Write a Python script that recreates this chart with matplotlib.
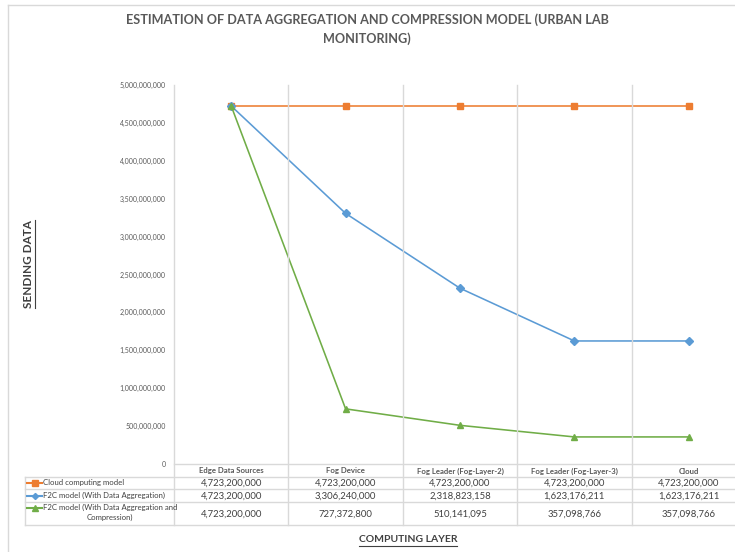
import matplotlib.pyplot as plt
from matplotlib.lines import Line2D
from matplotlib.ticker import FuncFormatter
import matplotlib.transforms as mtransforms

plt.rcParams['font.family'] = ['Lato', 'DejaVu Sans']

# data
layers = ['Edge Data Sources', 'Fog Device', 'Fog Leader (Fog-Layer-2)',
          'Fog Leader (Fog-Layer-3)', 'Cloud']
cloud_model = [4723200000, 4723200000, 4723200000, 4723200000, 4723200000]
f2c_aggregation = [4723200000, 3306240000, 2318823158, 1623176211, 1623176211]
f2c_compression = [4723200000, 727372800, 510141095, 357098766, 357098766]
series_names = ['Cloud computing model',
                'F2C model (With Data Aggregation)',
                'F2C model (With Data Aggregation and\nCompression)']

colors = ['#ED7D31', '#5B9BD5', '#70AD47']
markers = ['s', 'D', '^']
msizes = [4.8, 3.6, 4.8]
grid_col = '#D9D9D9'
text_col = '#595959'

W, H = 735, 552
fig = plt.figure(figsize=(W / 100, H / 100), dpi=100)

def fy(p):
    # pixel row -> figure fraction
    return 1 - p / H

# plot area runs past the right edge (chart is cropped in the source)
ax = fig.add_axes([174 / W, fy(464), (746 - 174) / W, (464 - 85) / H])
x = list(range(len(layers)))
all_series = [cloud_model, f2c_aggregation, f2c_compression]
for vals, c, m, ms in zip(all_series, colors, markers, msizes):
    ax.plot(x, vals, color=c, lw=1.15, marker=m, markersize=ms, zorder=3)

ax.set_xlim(-0.5, len(layers) - 0.5)
ax.set_ylim(0, 5e9)
ax.set_yticks([i * 5e8 for i in range(11)])
ax.yaxis.set_major_formatter(FuncFormatter(lambda v, p: f'{int(v):,}'))
ax.tick_params(axis='y', length=0, pad=6, labelsize=5.0, labelcolor=text_col)
ax.set_xticks([])
for s in ['top', 'right', 'left']:
    ax.spines[s].set_visible(False)
ax.spines['bottom'].set_color(grid_col)
ax.spines['bottom'].set_linewidth(1.0)

# category borders + data table
tr = mtransforms.blended_transform_factory(ax.transData, fig.transFigure)
for b in [i - 0.5 for i in range(len(layers) + 1)]:
    fig.add_artist(Line2D([b, b], [fy(85), fy(525)], transform=tr,
                          color=grid_col, lw=1.0, zorder=1))
for yp in [477, 489, 502, 525]:
    fig.add_artist(Line2D([25 / W, 1.0], [fy(yp), fy(yp)],
                          transform=fig.transFigure, color=grid_col, lw=1.0))
fig.add_artist(Line2D([25 / W, 25 / W], [fy(477), fy(525)],
                      transform=fig.transFigure, color=grid_col, lw=1.0))

for i, name in enumerate(layers):
    fig.text(i, fy(471), name, transform=tr, ha='center', va='center',
             fontsize=5.6, fontweight='bold', color=text_col)

row_centers = [483, 496, 514]
key_centers = [483, 496, 508]
for r, vals in enumerate(all_series):
    for i, v in enumerate(vals):
        fig.text(i, fy(row_centers[r]), f'{v:,}', transform=tr, ha='center',
                 va='center', fontsize=6.8, color='#404040')
    fig.add_artist(Line2D([27 / W, 42 / W], [fy(key_centers[r])] * 2,
                          transform=fig.transFigure, color=colors[r], lw=1.5))
    fig.add_artist(Line2D([34.5 / W], [fy(key_centers[r])],
                          transform=fig.transFigure, color=colors[r],
                          marker=markers[r], markersize=msizes[r] - 0.5, lw=0))
    fig.text(43 / W, fy(key_centers[r] - 4.5), series_names[r], ha='left',
             va='top', fontsize=5.6, color='#404040', multialignment='center',
             linespacing=1.5)

# titles
fig.text(367 / W, fy(29.5), 'ESTIMATION OF DATA AGGREGATION AND COMPRESSION MODEL (URBAN LAB\nMONITORING)',
         ha='center', va='center', fontsize=9.1, fontweight='bold',
         color=text_col, linespacing=1.6)
ylab = fig.text(28 / W, fy(264), 'SENDING DATA', rotation=90, ha='center',
                va='center', fontsize=8.5, fontweight='bold', color='#404040')
xlab = fig.text(408 / W, fy(540), 'COMPUTING LAYER', ha='center', va='center',
                fontsize=7.5, fontweight='bold', color='#404040')

# underline the axis titles
fig.canvas.draw()
inv = fig.transFigure.inverted()
bb = ylab.get_window_extent()
(x0, y0), (x1, y1) = inv.transform([[bb.x0, bb.y0], [bb.x1, bb.y1]])
fig.add_artist(Line2D([x1 + 1 / W] * 2, [y0, y1], transform=fig.transFigure,
                      color='#404040', lw=0.8))
bb = xlab.get_window_extent()
(x0, y0), (x1, y1) = inv.transform([[bb.x0, bb.y0], [bb.x1, bb.y1]])
fig.add_artist(Line2D([x0, x1], [y0 - 1 / H] * 2, transform=fig.transFigure,
                      color='#404040', lw=0.8))

# outer chart border (cropped)
fig.add_artist(Line2D([8 / W, 8 / W], [0, fy(5)], transform=fig.transFigure,
                      color=grid_col, lw=1.0))
fig.add_artist(Line2D([8 / W, 1], [fy(5), fy(5)], transform=fig.transFigure,
                      color=grid_col, lw=1.0))

fig.savefig('out.png', dpi=100)
